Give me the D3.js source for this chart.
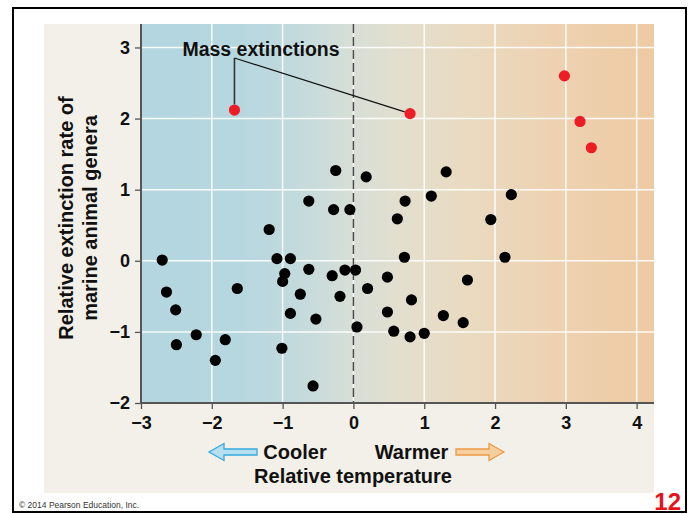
<!DOCTYPE html>
<html><head><meta charset="utf-8">
<script src="https://cdn.jsdelivr.net/npm/d3@7"></script>
<style>
html,body{margin:0;padding:0;background:#fff;}
svg{display:block;font-family:"Liberation Sans",Arial,sans-serif;}
</style></head>
<body>
<svg id="chart" width="694" height="514"></svg>
<script>
// ---- data ----
const blackTemp = [-2.70,-2.64,-2.51,-2.50,-2.22,-1.95,-1.81,-1.64,-1.19,-1.08,-0.89,-1.00,-0.97,-0.89,-1.01,-0.75,-0.63,-0.63,-0.57,-0.53,-0.30,-0.28,-0.25,-0.19,-0.12,-0.05,0.03,0.05,0.18,0.20,0.48,0.48,0.57,0.62,0.72,0.73,0.80,0.82,1.00,1.10,1.27,1.31,1.55,1.61,1.94,2.14,2.23];
const blackRate = [0.01,-0.44,-0.69,-1.18,-1.04,-1.40,-1.11,-0.39,0.44,0.03,0.03,-0.29,-0.18,-0.74,-1.23,-0.47,0.84,-0.12,-1.76,-0.82,-0.21,0.72,1.27,-0.50,-0.13,0.72,-0.13,-0.93,1.18,-0.39,-0.23,-0.72,-0.99,0.59,0.05,0.84,-1.07,-0.55,-1.02,0.91,-0.77,1.25,-0.87,-0.27,0.58,0.05,0.93];
const redTemp = [-1.68,0.80,2.98,3.20,3.36];
const redRate = [2.12,2.07,2.60,1.96,1.59];
const xTicks = [-3,-2,-1,0,1,2,3,4];
const yTicks = [-2,-1,0,1,2,3];
const annotationText = "Mass extinctions";
const yTitle = ["Relative extinction rate of","marine animal genera"];
const xTitle = "Relative temperature";
const coolerText = "Cooler", warmerText = "Warmer";
const credit = "\u00a9 2014 Pearson Education, Inc.";
const pageNum = "12";

// ---- layout ----
const svg = d3.select("#chart");
const L = 141, R = 654, T = 24, B = 403;
const x = d3.scaleLinear().domain([-3, 4.245]).range([L, R]);
const y = d3.scaleLinear().domain([-2, 3.33]).range([B, T]);
const fmt = d => d < 0 ? "\u2212" + Math.abs(d) : String(d);

// slide frame
svg.append("rect").attr("x",13).attr("y",8).attr("width",673).attr("height",504)
  .attr("fill","#fff").attr("stroke","#000").attr("stroke-width",2);
// beige panel
svg.append("rect").attr("x",44).attr("y",24).attr("width",610).attr("height",469).attr("fill","#f2f0e8");

// gradient background
const defs = svg.append("defs");
const g = defs.append("linearGradient").attr("id","bg").attr("x1","0").attr("x2","1").attr("y1","0").attr("y2","0");
[[0,"#b3d6e0"],[0.2,"#b7d7df"],[0.3,"#c2dadd"],[0.4,"#d5ded7"],[0.5,"#e2dfcf"],[0.62,"#e9dbc2"],[0.8,"#edd2b2"],[1,"#eecaa3"]]
  .forEach(([o,c]) => g.append("stop").attr("offset",o).attr("stop-color",c));
svg.append("rect").attr("x",L).attr("y",T).attr("width",R-L).attr("height",B-T).attr("fill","url(#bg)");

// grid
const grid = svg.append("g");
grid.selectAll(".gx").data(xTicks.filter(d=>d>-3)).join("line")
  .attr("x1",d=>x(d)).attr("x2",d=>x(d)).attr("y1",T).attr("y2",B)
  .attr("stroke","#fff").attr("stroke-width",1.5).attr("opacity",0.9);
grid.selectAll(".gy").data(yTicks.filter(d=>d>-2)).join("line")
  .attr("y1",d=>y(d)).attr("y2",d=>y(d)).attr("x1",L).attr("x2",R)
  .attr("stroke","#fff").attr("stroke-width",1.5).attr("opacity",0.9);

// dashed zero line
svg.append("line").attr("x1",x(0)).attr("x2",x(0)).attr("y1",T).attr("y2",B)
  .attr("stroke","#4a4a4a").attr("stroke-width",1.5).attr("stroke-dasharray","9,4");

// axes
const xAxis = svg.append("g").attr("transform",`translate(0,${B})`)
  .call(d3.axisBottom(x).tickValues(xTicks).tickFormat(fmt).tickSize(6).tickSizeOuter(0));
const yAxis = svg.append("g").attr("transform",`translate(${L},0)`)
  .call(d3.axisLeft(y).tickValues(yTicks).tickFormat(fmt).tickSize(6).tickSizeOuter(0));
[xAxis,yAxis].forEach(a => {
  a.select(".domain").attr("stroke","#555").attr("stroke-width",2);
  a.selectAll(".tick line").attr("stroke","#555").attr("stroke-width",1.3);
  a.selectAll("text").attr("fill","#111").style("font-size","18px").style("font-weight","bold")
    .style("font-family","'Liberation Sans',Arial,sans-serif");
});
xAxis.selectAll("text").attr("dy","0.72em").attr("y",13);
yAxis.selectAll("text").attr("x",-11);
yAxis.select(".domain").attr("d",`M0,${B}V${T}`);
xAxis.select(".domain").attr("d",`M${L},0H${R}`);

// annotation leader lines
const ax = x(redTemp[0]), ay = 58;
const r = 5.6;
svg.append("line").attr("x1",ax).attr("y1",ay).attr("x2",x(redTemp[0])).attr("y2",y(redRate[0])-r)
  .attr("stroke","#333").attr("stroke-width",1.6);
(function(){
  const tx = x(redTemp[1]), ty = y(redRate[1]);
  const dx = tx-ax, dy = ty-ay, len = Math.hypot(dx,dy);
  svg.append("polyline").attr("points",`${ax},${ay} ${tx-dx/len*r},${ty-dy/len*r}`)
    .attr("fill","none").attr("stroke","#111").attr("stroke-width",1.2);
})();
svg.append("text").attr("x",261).attr("y",56).attr("text-anchor","middle")
  .style("font-size","19.5px").style("font-weight","bold").attr("fill","#111").text(annotationText);

// points
const blackPts = blackTemp.map((t,i)=>({t, v: blackRate[i]}));
const redPts = redTemp.map((t,i)=>({t, v: redRate[i]}));
svg.append("g").selectAll("circle").data(blackPts).join("circle")
  .attr("cx",d=>x(d.t)).attr("cy",d=>y(d.v)).attr("r",r).attr("fill","#000");
svg.append("g").selectAll("circle").data(redPts).join("circle")
  .attr("cx",d=>x(d.t)).attr("cy",d=>y(d.v)).attr("r",r).attr("fill","#ee1c25");

// y title
const yt = svg.append("text").attr("transform","translate(73,218) rotate(-90)")
  .attr("text-anchor","middle").style("font-size","20px").style("font-weight","bold").attr("fill","#111");
yt.append("tspan").attr("x",0).attr("dy",0).text(yTitle[0]);
yt.append("tspan").attr("x",0).attr("dy",24).text(yTitle[1]);

// x titles
const tstyle = s => s.attr("text-anchor","middle").style("font-size","20px").style("font-weight","bold").attr("fill","#111");
svg.append("text").attr("x",295).attr("y",459).call(tstyle).text(coolerText);
svg.append("text").attr("x",411.5).attr("y",459).call(tstyle).text(warmerText);
svg.append("text").attr("x",353).attr("y",483).call(tstyle).text(xTitle);

// arrows
function arrow(x0, x1, cy, fill, stroke){
  const dir = Math.sign(x1-x0), hl = 15, hw = 8.5, sw = 3;
  const hb = x1 - dir*hl;
  const pts = [[x0,cy-sw],[hb,cy-sw],[hb,cy-hw],[x1,cy],[hb,cy+hw],[hb,cy+sw],[x0,cy+sw]];
  svg.append("polygon").attr("points",pts.map(p=>p.join(",")).join(" "))
    .attr("fill",fill).attr("stroke",stroke).attr("stroke-width",1.3).attr("stroke-linejoin","miter");
}
arrow(257, 209, 452, "#b6e0f2", "#35a9dc");
arrow(456, 504, 452, "#f7cf9e", "#eb9a45");

// credit and page number
svg.append("text").attr("x",19).attr("y",508).style("font-size","8.5px").attr("fill","#333").text(credit);
svg.append("text").attr("x",681).attr("y",510).attr("text-anchor","end")
  .style("font-size","24px").style("font-weight","bold").attr("fill","#e8121b").text(pageNum);
</script>
</body></html>
